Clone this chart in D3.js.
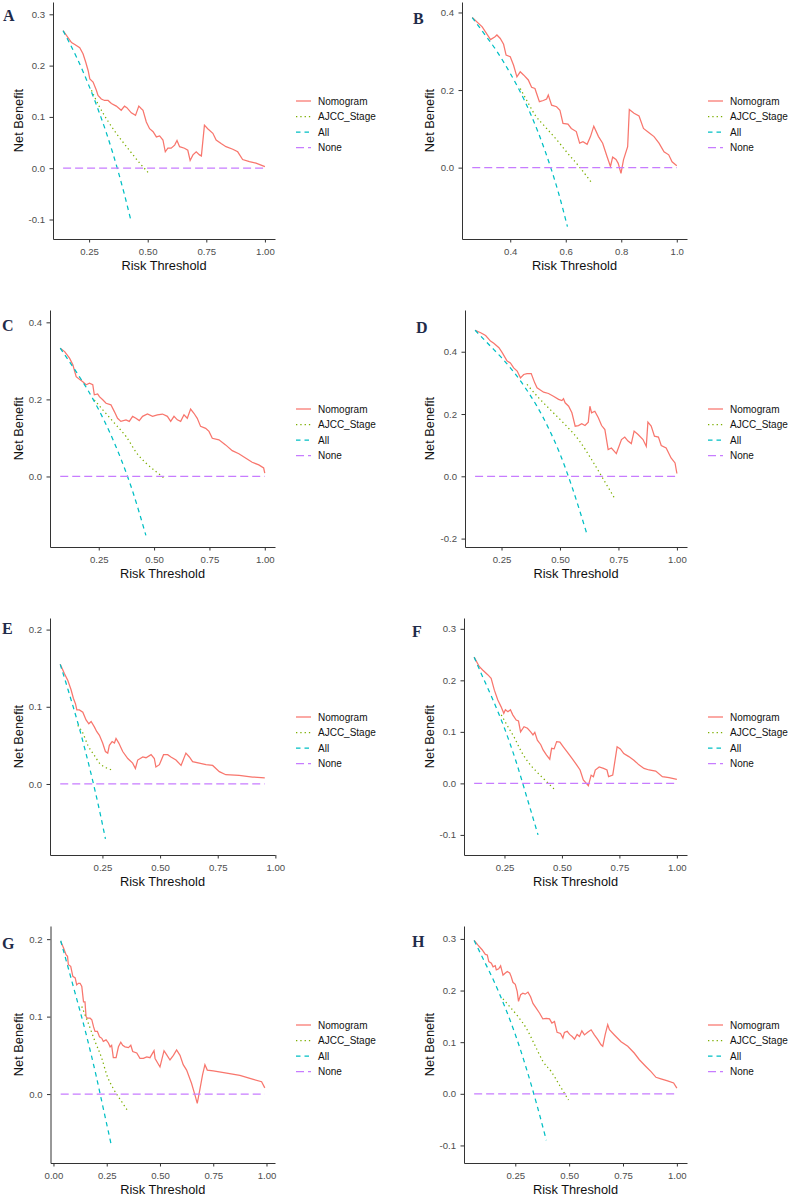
<!DOCTYPE html>
<html>
<head>
<meta charset="utf-8">
<script src="https://cdn.jsdelivr.net/npm/d3@7"></script>
<style>
body { margin: 0; background: #fff; }
svg { display: block; font-family: "Liberation Sans", Arial, sans-serif; }
.axis path, .axis line { stroke: #333; stroke-width: 1; }
.axis text { fill: #4d4d4d; font-size: 9.6px; font-family: "Liberation Sans", Arial, sans-serif; }
.title { font-size: 12.8px; fill: #111; }
.legend text { font-size: 10px; fill: #111; }
.letter { font-family: "Liberation Serif", "Times New Roman", serif; font-weight: bold; font-size: 16px; fill: #1f2b4a; }
</style>
</head>
<body>
<div id="chart"></div>
<script>

var seriesNames = ["Nomogram", "AJCC_Stage", "All", "None"];

// ---- A ----
var nomA = [[0.139,0.268],[0.175,0.245],[0.189,0.241],[0.21,0.235],[0.224,0.223],[0.236,0.206],[0.246,0.19],[0.253,0.174],[0.267,0.168],[0.281,0.152],[0.288,0.142],[0.302,0.135],[0.316,0.132],[0.331,0.132],[0.345,0.126],[0.366,0.121],[0.387,0.113],[0.401,0.121],[0.411,0.118],[0.43,0.108],[0.448,0.103],[0.462,0.121],[0.473,0.116],[0.48,0.113],[0.494,0.09],[0.508,0.077],[0.523,0.071],[0.537,0.061],[0.551,0.063],[0.565,0.055],[0.575,0.032],[0.586,0.039],[0.6,0.039],[0.615,0.045],[0.625,0.054],[0.636,0.042],[0.657,0.039],[0.671,0.035],[0.681,0.015],[0.693,0.026],[0.707,0.032],[0.721,0.026],[0.729,0.024],[0.742,0.084],[0.756,0.077],[0.778,0.068],[0.792,0.055],[0.813,0.048],[0.834,0.042],[0.863,0.037],[0.884,0.032],[0.905,0.017],[0.934,0.013],[0.962,0.01],[1.0,0.003]];
var ajccA = [[0.26,0.152],[0.295,0.119],[0.33,0.092],[0.366,0.068],[0.42,0.036],[0.466,0.01],[0.501,-0.008]];
var allA = [[0.139,0.268],[0.17,0.241],[0.2,0.213],[0.25,0.16],[0.275,0.131],[0.3,0.10],[0.325,0.067],[0.35,0.031],[0.375,-0.008],[0.4,-0.05],[0.43,-0.105]];
var noneA = [[0.139,0],[1.0,0]];

// ---- B ----
var nomB = [[0.263,0.387],[0.299,0.363],[0.329,0.33],[0.344,0.337],[0.352,0.342],[0.364,0.333],[0.376,0.318],[0.385,0.29],[0.4,0.286],[0.412,0.264],[0.424,0.234],[0.436,0.247],[0.448,0.239],[0.465,0.226],[0.477,0.207],[0.489,0.204],[0.495,0.191],[0.505,0.17],[0.519,0.173],[0.531,0.177],[0.537,0.187],[0.549,0.161],[0.567,0.157],[0.579,0.148],[0.59,0.114],[0.608,0.112],[0.62,0.101],[0.638,0.093],[0.65,0.063],[0.662,0.067],[0.677,0.06],[0.689,0.08],[0.701,0.107],[0.718,0.08],[0.733,0.063],[0.749,0.028],[0.761,0.003],[0.769,0.027],[0.781,0.021],[0.789,0.011],[0.799,-0.015],[0.808,0.02],[0.823,0.054],[0.829,0.15],[0.846,0.14],[0.864,0.133],[0.88,0.101],[0.9,0.09],[0.918,0.08],[0.936,0.063],[0.954,0.041],[0.971,0.033],[0.983,0.015],[1.0,0.005]];
var ajccB = [[0.436,0.204],[0.465,0.166],[0.489,0.136],[0.525,0.106],[0.573,0.067],[0.607,0.037],[0.648,0.003],[0.693,-0.039]];
var allB = [[0.263,0.387],[0.3,0.351],[0.35,0.302],[0.4,0.243],[0.45,0.175],[0.5,0.092],[0.525,0.044],[0.55,-0.009],[0.575,-0.068],[0.606,-0.152]];
var noneB = [[0.263,0],[1.0,0]];

// ---- C ----
var nomC = [[0.076,0.333],[0.096,0.324],[0.118,0.307],[0.133,0.29],[0.148,0.259],[0.163,0.252],[0.178,0.246],[0.193,0.238],[0.208,0.242],[0.223,0.238],[0.23,0.212],[0.245,0.214],[0.253,0.207],[0.268,0.199],[0.283,0.19],[0.305,0.186],[0.32,0.169],[0.335,0.151],[0.35,0.143],[0.373,0.147],[0.388,0.143],[0.403,0.156],[0.418,0.151],[0.433,0.145],[0.448,0.156],[0.47,0.162],[0.493,0.156],[0.515,0.16],[0.538,0.162],[0.56,0.156],[0.575,0.143],[0.59,0.156],[0.605,0.147],[0.62,0.143],[0.635,0.16],[0.65,0.151],[0.665,0.175],[0.68,0.164],[0.695,0.151],[0.71,0.13],[0.733,0.125],[0.748,0.117],[0.763,0.099],[0.793,0.095],[0.823,0.082],[0.853,0.067],[0.883,0.059],[0.913,0.048],[0.943,0.037],[0.973,0.03],[0.995,0.022],[1.0,0.009]];
var ajccC = [[0.23,0.199],[0.268,0.173],[0.328,0.134],[0.373,0.104],[0.425,0.058],[0.463,0.035],[0.508,0.013],[0.55,-0.006]];
var allC = [[0.076,0.333],[0.15,0.27],[0.2,0.225],[0.25,0.173],[0.3,0.114],[0.35,0.046],[0.4,-0.033],[0.463,-0.153]];
var noneC = [[0.076,0],[1.0,0]];

// ---- D ----
var nomD = [[0.137,0.469],[0.161,0.461],[0.182,0.452],[0.203,0.434],[0.217,0.427],[0.239,0.413],[0.253,0.397],[0.274,0.37],[0.288,0.364],[0.302,0.348],[0.317,0.338],[0.331,0.316],[0.345,0.327],[0.359,0.33],[0.377,0.33],[0.392,0.3],[0.402,0.284],[0.416,0.277],[0.43,0.27],[0.451,0.266],[0.472,0.257],[0.494,0.247],[0.508,0.243],[0.515,0.249],[0.522,0.236],[0.537,0.225],[0.551,0.204],[0.565,0.161],[0.579,0.163],[0.593,0.169],[0.607,0.163],[0.621,0.174],[0.628,0.225],[0.635,0.204],[0.649,0.209],[0.664,0.188],[0.678,0.163],[0.692,0.15],[0.706,0.086],[0.72,0.091],[0.741,0.073],[0.763,0.118],[0.777,0.126],[0.791,0.113],[0.805,0.105],[0.817,0.145],[0.834,0.134],[0.855,0.118],[0.869,0.096],[0.876,0.174],[0.89,0.161],[0.904,0.129],[0.921,0.126],[0.933,0.099],[0.954,0.091],[0.975,0.059],[0.992,0.043],[1.0,0.009]];
var ajccD = [[0.359,0.295],[0.409,0.252],[0.465,0.209],[0.522,0.166],[0.579,0.118],[0.635,0.054],[0.678,0.0],[0.737,-0.075]];
var allD = [[0.137,0.469],[0.2,0.42],[0.25,0.381],[0.3,0.337],[0.35,0.286],[0.4,0.227],[0.45,0.156],[0.5,0.072],[0.55,-0.031],[0.617,-0.19]];
var noneD = [[0.137,0],[1.0,0]];

// ---- E ----
var nomE = [[0.067,0.155],[0.085,0.143],[0.1,0.134],[0.114,0.122],[0.124,0.111],[0.133,0.104],[0.139,0.096],[0.15,0.096],[0.165,0.093],[0.179,0.083],[0.191,0.078],[0.201,0.081],[0.215,0.074],[0.225,0.068],[0.237,0.063],[0.251,0.053],[0.263,0.042],[0.273,0.04],[0.28,0.05],[0.292,0.055],[0.302,0.053],[0.309,0.059],[0.321,0.053],[0.338,0.042],[0.36,0.033],[0.381,0.027],[0.393,0.02],[0.403,0.031],[0.425,0.035],[0.439,0.034],[0.461,0.038],[0.475,0.033],[0.482,0.022],[0.497,0.025],[0.515,0.038],[0.533,0.038],[0.547,0.035],[0.569,0.031],[0.591,0.024],[0.612,0.04],[0.627,0.035],[0.641,0.029],[0.67,0.027],[0.699,0.025],[0.728,0.024],[0.757,0.016],[0.785,0.012],[0.843,0.011],[0.901,0.009],[0.954,0.008]];
var ajccE = [[0.143,0.076],[0.165,0.066],[0.187,0.05],[0.215,0.037],[0.237,0.027],[0.266,0.021],[0.295,0.018]];
var allE = [[0.067,0.155],[0.1,0.123],[0.15,0.072],[0.2,0.014],[0.24,-0.038],[0.263,-0.071]];
var noneE = [[0.067,0],[0.954,0]];

// ---- F ----
var nomF = [[0.118,0.245],[0.14,0.227],[0.155,0.22],[0.177,0.211],[0.192,0.204],[0.206,0.181],[0.221,0.162],[0.235,0.149],[0.247,0.136],[0.254,0.143],[0.265,0.139],[0.276,0.143],[0.286,0.133],[0.301,0.123],[0.311,0.121],[0.32,0.1],[0.335,0.11],[0.35,0.107],[0.364,0.1],[0.374,0.094],[0.382,0.099],[0.393,0.084],[0.408,0.075],[0.418,0.065],[0.433,0.055],[0.447,0.047],[0.455,0.068],[0.466,0.067],[0.477,0.081],[0.491,0.08],[0.506,0.071],[0.521,0.062],[0.543,0.049],[0.564,0.036],[0.579,0.026],[0.593,0.0065],[0.615,-0.0045],[0.627,0.016],[0.637,0.013],[0.645,0.026],[0.662,0.032],[0.681,0.029],[0.696,0.026],[0.703,0.013],[0.721,0.016],[0.74,0.071],[0.754,0.067],[0.769,0.058],[0.791,0.052],[0.813,0.045],[0.835,0.036],[0.857,0.029],[0.879,0.026],[0.908,0.024],[0.937,0.013],[0.966,0.011],[1.0,0.008]];
var ajccF = [[0.236,0.133],[0.265,0.11],[0.294,0.088],[0.323,0.062],[0.352,0.042],[0.389,0.023],[0.425,0.007],[0.466,-0.011]];
var allF = [[0.118,0.245],[0.15,0.212],[0.2,0.162],[0.25,0.107],[0.3,0.043],[0.35,-0.031],[0.396,-0.1]];
var noneF = [[0.118,0],[1.0,0]];

// ---- G ----
var nomG = [[0.034,0.197],[0.047,0.189],[0.059,0.18],[0.066,0.178],[0.07,0.167],[0.081,0.165],[0.091,0.152],[0.102,0.15],[0.109,0.141],[0.117,0.143],[0.125,0.143],[0.133,0.139],[0.141,0.119],[0.148,0.119],[0.153,0.1],[0.159,0.098],[0.172,0.098],[0.18,0.096],[0.188,0.087],[0.195,0.081],[0.206,0.081],[0.216,0.074],[0.227,0.072],[0.234,0.068],[0.247,0.07],[0.258,0.066],[0.266,0.061],[0.273,0.063],[0.281,0.047],[0.294,0.047],[0.305,0.061],[0.316,0.067],[0.325,0.063],[0.336,0.061],[0.352,0.06],[0.363,0.063],[0.372,0.055],[0.391,0.053],[0.406,0.046],[0.422,0.046],[0.438,0.048],[0.453,0.047],[0.472,0.056],[0.477,0.046],[0.5,0.035],[0.519,0.056],[0.531,0.051],[0.547,0.044],[0.563,0.05],[0.578,0.057],[0.594,0.05],[0.609,0.038],[0.625,0.031],[0.648,0.014],[0.664,-0.001],[0.675,-0.012],[0.688,0.007],[0.7,0.025],[0.711,0.038],[0.722,0.031],[0.75,0.03],[0.813,0.027],[0.875,0.024],[0.938,0.019],[0.977,0.016],[0.992,0.008]];
var ajccG = [[0.133,0.113],[0.164,0.091],[0.195,0.068],[0.227,0.046],[0.25,0.025],[0.281,0.007],[0.316,-0.008],[0.347,-0.021]];
var allG = [[0.034,0.198],[0.1,0.132],[0.15,0.081],[0.2,0.024],[0.235,-0.02],[0.27,-0.064]];
var noneG = [[0.034,0],[0.992,0]];

// ---- H ----
var nomH = [[0.059,0.297],[0.077,0.288],[0.096,0.279],[0.111,0.27],[0.12,0.269],[0.127,0.256],[0.139,0.253],[0.147,0.246],[0.157,0.248],[0.162,0.24],[0.173,0.242],[0.182,0.248],[0.193,0.23],[0.204,0.234],[0.213,0.237],[0.224,0.234],[0.231,0.227],[0.239,0.216],[0.25,0.212],[0.259,0.198],[0.265,0.179],[0.275,0.192],[0.285,0.195],[0.296,0.193],[0.309,0.197],[0.321,0.188],[0.332,0.175],[0.347,0.166],[0.363,0.156],[0.378,0.145],[0.394,0.146],[0.409,0.145],[0.42,0.137],[0.432,0.14],[0.444,0.119],[0.46,0.117],[0.471,0.108],[0.478,0.119],[0.491,0.121],[0.502,0.115],[0.514,0.111],[0.525,0.106],[0.537,0.115],[0.548,0.111],[0.559,0.122],[0.571,0.114],[0.586,0.119],[0.602,0.124],[0.617,0.114],[0.633,0.105],[0.648,0.095],[0.656,0.092],[0.667,0.114],[0.679,0.134],[0.687,0.124],[0.71,0.114],[0.741,0.101],[0.772,0.092],[0.802,0.079],[0.826,0.066],[0.856,0.053],[0.88,0.043],[0.903,0.032],[0.926,0.029],[0.957,0.025],[0.985,0.021],[1.0,0.011]];
var ajccH = [[0.193,0.184],[0.224,0.169],[0.262,0.15],[0.301,0.127],[0.34,0.095],[0.378,0.063],[0.417,0.043],[0.455,0.017],[0.497,-0.012]];
var allH = [[0.059,0.297],[0.1,0.262],[0.15,0.219],[0.2,0.17],[0.25,0.115],[0.3,0.051],[0.35,-0.021],[0.394,-0.09]];
var noneH = [[0.059,0],[1.0,0]];

// axis limits and tick values
var yLimA = [-0.138, 0.324], yTickA = [-0.1, 0, 0.1, 0.2, 0.3];
var yLimB = [-0.184, 0.427], yTickB = [0, 0.2, 0.4];
var yLimC = [-0.183, 0.432], yTickC = [0, 0.2, 0.4];
var yLimD = [-0.227, 0.534], yTickD = [-0.2, 0, 0.2, 0.4];
var yLimE = [-0.092, 0.215], yTickE = [0, 0.1, 0.2];
var yLimF = [-0.139, 0.321], yTickF = [-0.1, 0, 0.1, 0.2, 0.3];
var yLimG = [-0.089, 0.217], yTickG = [0, 0.1, 0.2];
var yLimH = [-0.134, 0.325], yTickH = [-0.1, 0, 0.1, 0.2, 0.3];
var xTickQ = [0.25, 0.5, 0.75, 1.0];
var xTickB = [0.4, 0.6, 0.8, 1.0];
var xTickG = [0, 0.25, 0.5, 0.75, 1.0];

var panels = [
  {id: "A", row: 0, col: 0, left: 53,  lx: 3,   ly: 20.5, nom: nomA, ajcc: ajccA, all: allA, none: noneA, yLim: yLimA, yTicks: yTickA, xTicks: xTickQ, xFmt: ".2f"},
  {id: "B", row: 0, col: 1, left: 462, lx: 413, ly: 24,   nom: nomB, ajcc: ajccB, all: allB, none: noneB, yLim: yLimB, yTicks: yTickB, xTicks: xTickB, xFmt: ".1f"},
  {id: "C", row: 1, col: 0, left: 50,  lx: 2,   ly: 331,  nom: nomC, ajcc: ajccC, all: allC, none: noneC, yLim: yLimC, yTicks: yTickC, xTicks: xTickQ, xFmt: ".2f"},
  {id: "D", row: 1, col: 1, left: 465, lx: 416, ly: 333,  nom: nomD, ajcc: ajccD, all: allD, none: noneD, yLim: yLimD, yTicks: yTickD, xTicks: xTickQ, xFmt: ".2f"},
  {id: "E", row: 2, col: 0, left: 50,  lx: 2,   ly: 634,  nom: nomE, ajcc: ajccE, all: allE, none: noneE, yLim: yLimE, yTicks: yTickE, xTicks: xTickQ, xFmt: ".2f"},
  {id: "F", row: 2, col: 1, left: 464, lx: 412, ly: 637,  nom: nomF, ajcc: ajccF, all: allF, none: noneF, yLim: yLimF, yTicks: yTickF, xTicks: xTickQ, xFmt: ".2f"},
  {id: "G", row: 3, col: 0, left: 50.5,lx: 2,   ly: 949,  nom: nomG, ajcc: ajccG, all: allG, none: noneG, yLim: yLimG, yTicks: yTickG, xTicks: xTickG, xFmt: ".2f"},
  {id: "H", row: 3, col: 1, left: 464, lx: 412, ly: 947,  nom: nomH, ajcc: ajccH, all: allH, none: noneH, yLim: yLimH, yTicks: yTickH, xTicks: xTickQ, xFmt: ".2f"}
];

var color = d3.scaleOrdinal().domain(seriesNames).range(["#F8766D", "#7CAE00", "#00BFC4", "#C77CFF"]);
var dash = {"Nomogram": null, "AJCC_Stage": "1.3,3", "All": "4.5,4", "None": "8,4"};

var loc = d3.formatLocale({decimal: ".", thousands: ",", grouping: [3], currency: ["", ""], minus: "-"});

var svg = d3.select("#chart").append("svg")
    .attr("width", 791)
    .attr("height", 1196);

panels.forEach(function(p) {
  var top = 2 + 308 * p.row,
      bottom = 239 + 308 * p.row,
      right = p.col === 0 ? 275 : 687,
      titleX = p.col === 0 ? 19 : 430;

  var series = [p.nom, p.ajcc, p.all, p.none];
  var ext = d3.extent(d3.merge(series), function(d) { return d[0]; });
  var pad = (ext[1] - ext[0]) * 0.05;

  var x = d3.scaleLinear().domain([ext[0] - pad, ext[1] + pad]).range([p.left, right]);
  var y = d3.scaleLinear().domain(p.yLim).range([bottom, top]);

  var g = svg.append("g");

  var line = d3.line()
      .x(function(d) { return x(d[0]); })
      .y(function(d) { return y(d[1]); });
  var smooth = d3.line()
      .curve(d3.curveMonotoneX)
      .x(function(d) { return x(d[0]); })
      .y(function(d) { return y(d[1]); });

  series.forEach(function(s, i) {
    var name = seriesNames[i];
    g.append("path")
        .attr("d", i === 0 ? line(s) : smooth(s))
        .attr("fill", "none")
        .attr("stroke", color(name))
        .attr("stroke-width", 1.25)
        .attr("stroke-dasharray", dash[name]);
  });

  var xAxis = g.append("g")
      .attr("class", "axis")
      .attr("transform", "translate(0," + bottom + ")")
      .call(d3.axisBottom(x).tickValues(p.xTicks).tickFormat(loc.format(p.xFmt))
        .tickSize(3.5).tickSizeOuter(0).tickPadding(5.5));

  var yAxis = g.append("g")
      .attr("class", "axis")
      .attr("transform", "translate(" + p.left + ",0)")
      .call(d3.axisLeft(y).tickValues(p.yTicks).tickFormat(loc.format(".1f"))
        .tickSize(3.5).tickSizeOuter(0).tickPadding(4.5));

  g.selectAll(".axis").attr("font-size", null).attr("font-family", null);

  g.append("text")
      .attr("class", "title")
      .attr("x", (p.left + right) / 2)
      .attr("y", bottom + 30.5)
      .attr("text-anchor", "middle")
      .text("Risk Threshold");

  g.append("text")
      .attr("class", "title")
      .attr("transform", "translate(" + titleX + "," + ((top + bottom) / 2) + ") rotate(-90)")
      .attr("text-anchor", "middle")
      .attr("dy", "0.35em")
      .text("Net Benefit");

  g.append("text")
      .attr("class", "letter")
      .attr("x", p.lx)
      .attr("y", p.ly)
      .text(p.id);

  var legend = g.append("g")
      .attr("class", "legend")
      .attr("transform", "translate(" + (right + 21) + "," + (top + 99) + ")");

  seriesNames.forEach(function(name, i) {
    legend.append("line")
        .attr("x1", 0).attr("x2", 15)
        .attr("y1", i * 15.5).attr("y2", i * 15.5)
        .attr("stroke", color(name))
        .attr("stroke-width", 1.25)
        .attr("stroke-dasharray", dash[name]);
    legend.append("text")
        .attr("x", 22)
        .attr("y", i * 15.5)
        .attr("dy", "0.35em")
        .text(name);
  });
});

</script>
</body>
</html>
